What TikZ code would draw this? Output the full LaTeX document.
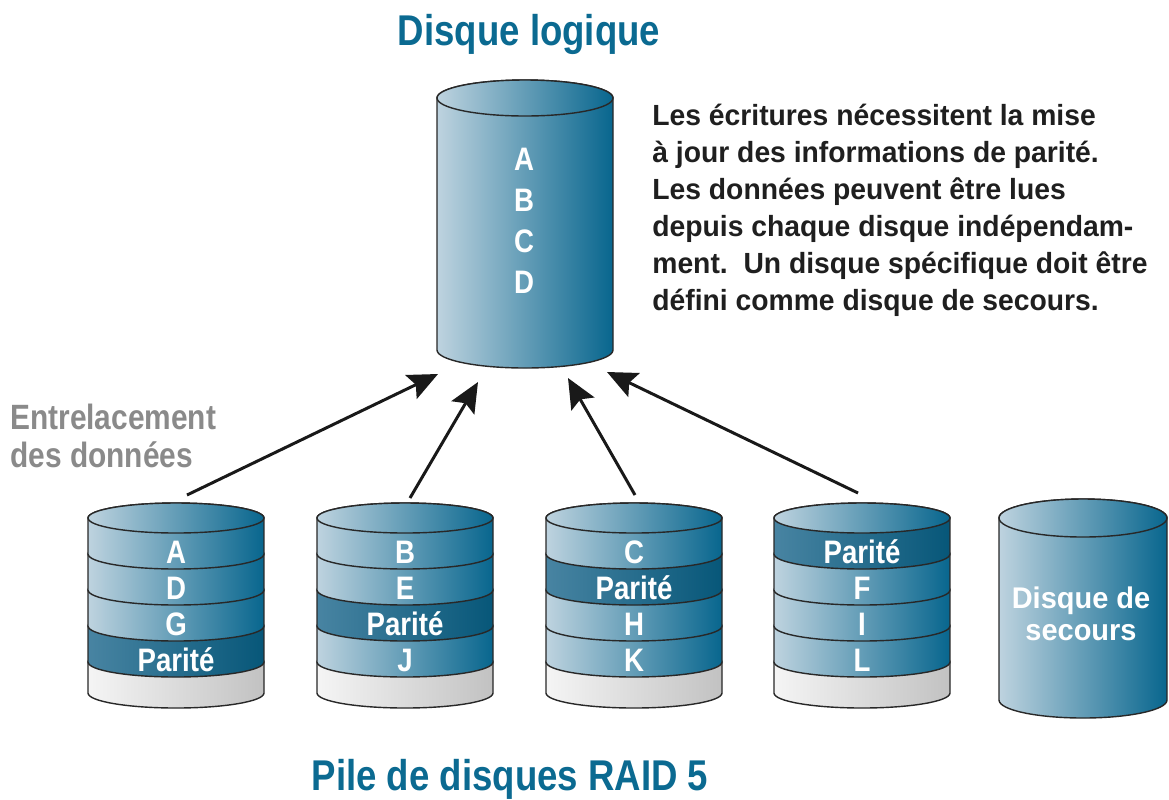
\documentclass[tikz,border=0pt]{standalone}
\usepackage{fontspec}
\setmainfont{Liberation Sans}[FakeStretch=0.85]
\newfontfamily\texteLarge{Liberation Sans}[FakeStretch=0.97]
\usetikzlibrary{arrows.meta}

\definecolor{bleuTitre}{RGB}{11,106,145}
\definecolor{bleuClair}{RGB}{190,211,223}
\definecolor{bleuFonce}{RGB}{8,102,142}
\definecolor{bleuParite}{RGB}{72,132,162}
\definecolor{trait}{RGB}{40,40,40}
\definecolor{grisTexte}{RGB}{138,138,138}

\tikzset{
  couche/.style={draw=trait, line width=0.8pt, left color=bleuClair, right color=bleuFonce},
  parite/.style={draw=trait, line width=0.8pt, left color=bleuParite, right color=bleuFonce!85!black},
  socle/.style={draw=trait, line width=0.8pt, left color=black!4, right color=black!24},
  lettre/.style={text=white, inner sep=0pt, font=\fontsize{18.5}{18.5}\selectfont\bfseries},
  fleche/.style={-{Stealth[length=17pt,width=15pt,inset=3pt]}, line width=1.7pt, draw=black!90},
}

% one band of a disk stack: [style]{name}{x}{y of upper edge}{label}
\newcommand{\Couche}[5][couche]{%
  \path[#1] (#3-88,-#4) -- (#3-88,-#4-36)
    arc[start angle=180, end angle=360, x radius=88, y radius=15]
    -- (#3+88,-#4) arc[start angle=0, end angle=180, x radius=88, y radius=15] -- cycle;
  \node[lettre] (#2) at (#3,-#4-34) {#5};}
% grey foot of a disk stack: {x}{y}
\newcommand{\Socle}[2]{%
  \path[socle] (#1-88,-#2) -- (#1-88,-#2-31)
    arc[start angle=180, end angle=360, x radius=88, y radius=15]
    -- (#1+88,-#2) arc[start angle=0, end angle=180, x radius=88, y radius=15] -- cycle;}
% top face of a disk stack: {x}
\newcommand{\Dessus}[1]{\path[couche] (#1,-518) ellipse[x radius=88, y radius=15];}

\begin{document}
\begin{tikzpicture}[x=0.02cm, y=0.02cm]
\useasboundingbox (0,0) rectangle (1169,-799);

% titles
\node[anchor=base, text=bleuTitre, font=\fontsize{24.5}{24.5}\selectfont\bfseries] (titre) at (529,-45) {Disque logique};
\node[anchor=base, text=bleuTitre, font=\fontsize{24.5}{24.5}\selectfont\bfseries] (pile) at (510,-790) {Pile de disques RAID 5};

% logical disk
\path[couche] (437,-98) -- (437,-350)
  arc[start angle=180, end angle=360, x radius=88, y radius=18]
  -- (613,-98) arc[start angle=0, end angle=180, x radius=88, y radius=18] -- cycle;
\path[couche] (525,-98) ellipse[x radius=88, y radius=18];
\node[lettre, align=center, font=\fontsize{18.5}{23.3}\selectfont\bfseries] (lettresLog) at (524,-221) {A\\B\\C\\D};

\node[anchor=base west, align=left, inner sep=0pt, text=black!88, font=\texteLarge\fontsize{16.6}{21}\selectfont\bfseries] (texte) at (652,-310)
  {Les écritures nécessitent la mise\\
   à jour des informations de parité.\\
   Les données peuvent être lues\\
   depuis chaque disque indépendam-\\
   ment.\ \ Un disque spécifique doit être\\
   défini comme disque de secours.};

\node[anchor=base west, align=left, inner sep=0pt, text=grisTexte, font=\fontsize{20}{21.2}\selectfont\bfseries] (entrelac) at (10,-467)
  {Entrelacement\\des données};

% disk 1
\Socle{176}{662}
\Couche[parite]{p1}{176}{626}{Parité}
\Couche{g1}{176}{590}{G}
\Couche{d1}{176}{554}{D}
\Couche{a1}{176}{518}{A}
\Dessus{176}

% disk 2
\Socle{405}{662}
\Couche{j2}{405}{626}{J}
\Couche[parite]{p2}{405}{590}{Parité}
\Couche{e2}{405}{554}{E}
\Couche{b2}{405}{518}{B}
\Dessus{405}

% disk 3
\Socle{634}{662}
\Couche{k3}{634}{626}{K}
\Couche{h3}{634}{590}{H}
\Couche[parite]{p3}{634}{554}{Parité}
\Couche{c3}{634}{518}{C}
\Dessus{634}

% disk 4
\Socle{862}{662}
\Couche{l4}{862}{626}{L}
\Couche{i4}{862}{590}{I}
\Couche{f4}{862}{554}{F}
\Couche[parite]{p4}{862}{518}{Parité}
\Dessus{862}

% spare disk
\path[couche] (999,-518) -- (999,-700)
  arc[start angle=180, end angle=360, x radius=84, y radius=18]
  -- (1167,-518) arc[start angle=0, end angle=180, x radius=84, y radius=19] -- cycle;
\path[couche] (1083,-518) ellipse[x radius=84, y radius=19];
\node[lettre, align=center, font=\texteLarge\fontsize{17}{18.5}\selectfont\bfseries] (secours) at (1081,-614) {Disque de\\secours};

% arrows
\coordinate (haut1) at (187,-495);
\coordinate (haut2) at (410,-498);
\coordinate (haut3) at (635,-495);
\coordinate (haut4) at (858,-493);
\coordinate (bas1) at (438,-374);
\coordinate (bas2) at (478,-382);
\coordinate (bas3) at (568,-378);
\coordinate (bas4) at (607,-372);
\draw[fleche] (haut1) -- (bas1);
\draw[fleche] (haut2) -- (bas2);
\draw[fleche] (haut3) -- (bas3);
\draw[fleche] (haut4) -- (bas4);

\end{tikzpicture}
\end{document}
